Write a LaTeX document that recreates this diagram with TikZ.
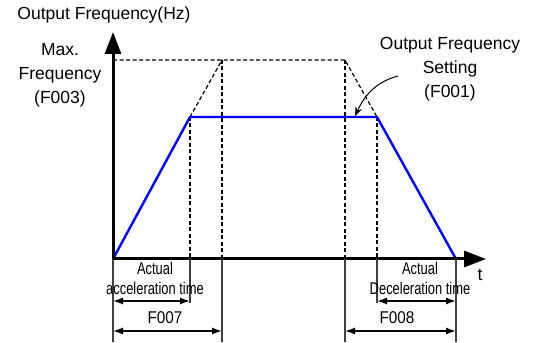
\documentclass[tikz,border=0pt]{standalone}
\usepackage{fontspec}
\setmainfont{Liberation Sans}
\usepackage{graphicx}
\usetikzlibrary{arrows.meta}
\newcommand\narrowtxt[1]{\scalebox{0.76}[1]{#1}}
\newcommand\digtxt[1]{\scalebox{0.9}[1]{#1}}

\begin{document}
\begin{tikzpicture}[
                x=1pt, y=1pt,
                font=\fontsize{17.5}{24}\selectfont,
                every node/.style={align=center, inner sep=0pt},
                axis/.style={line width=3pt, line cap=rect, -{Triangle[length=22pt,width=16pt]}},
                freqline/.style={draw=blue, line width=2.4pt, line join=miter},
                guide/.style={line width=1.2pt, dash pattern=on 4pt off 2.5pt},
                dimline/.style={draw=black!75, line width=1.2pt},
                dimarr/.style={{Latex[length=10pt,width=7pt]}-{Latex[length=10pt,width=7pt]}, line width=1.4pt},
                small/.style={font=\fontsize{17}{19}\selectfont, anchor=base},
                arr/.style={-{Stealth[length=9pt,width=7pt]}, line width=1pt},
            ]
            \useasboundingbox (0,0) rectangle (534,342);
            % points of the curve
            \coordinate (O) at (113,83);
            \coordinate (ytip) at (113,310);
            \coordinate (xtip) at (486,83);
            \coordinate (fmax) at (113,282);
            \coordinate (acc) at (190,225);
            \coordinate (top1) at (222,282);
            \coordinate (top2) at (345,282);
            \coordinate (dec) at (377,225);
            \coordinate (stop) at (456,83);

            % guides
            \draw[guide] (fmax) -- (top2) -- (dec);
            \draw[guide] (acc) -- (top1);
            \draw[guide] (acc) -- (acc |- O);
            \draw[guide] (top1) -- (top1 |- O);
            \draw[guide] (top2) -- (top2 |- O);
            \draw[guide] (dec) -- (dec |- O);

            % output frequency
            \draw[freqline] (O) -- (acc) -- (dec) -- (stop);

            % axes
            \draw[axis] (O) -- (ytip);
            \draw[axis] (O) -- (xtip);

            % dimension lines
            \draw[dimline] (O) -- ++(0,-83);
            \draw[dimline] (acc |- O) -- ++(0,-44);
            \draw[dimline] (top1 |- O) -- ++(0,-83);
            \draw[dimline] (top2 |- O) -- ++(0,-83);
            \draw[dimline] (dec |- O) -- ++(0,-44);
            \draw[dimline] (stop) -- ++(0,-83);
            \draw[dimarr] (113,41) -- (190,41);
            \draw[dimarr] (113,11) -- (222,11);
            \draw[dimarr] (377,41) -- (456,41);
            \draw[dimarr] (345,11) -- (456,11);

            % labels
            \node (ylabel) at (104,327) {Output Frequency(Hz)};
            \node (fmaxlabel) at (60,267) {Max.\\Frequency\\(F003)};
            \node (setlabel) at (450,273) {Output Frequency\\Setting\\(F001)};
            \node (tlabel) at (480,67) {t};
            \node[small] (acclabel) at (155,48) {\narrowtxt{Actual}\\\narrowtxt{acceleration time}};
            \node[small] (declabel) at (420,48) {\narrowtxt{Actual}\\\narrowtxt{Deceleration time}};
            \node[small] (f007) at (165,19) {\digtxt{F007}};
            \node[small] (f008) at (397,19) {\digtxt{F008}};

            \coordinate (setfrom) at (398,266);
            \coordinate (setto) at (355,226);
            \draw[arr] (setfrom) to[out=195, in=65] (setto);

        \end{tikzpicture}
\end{document}
